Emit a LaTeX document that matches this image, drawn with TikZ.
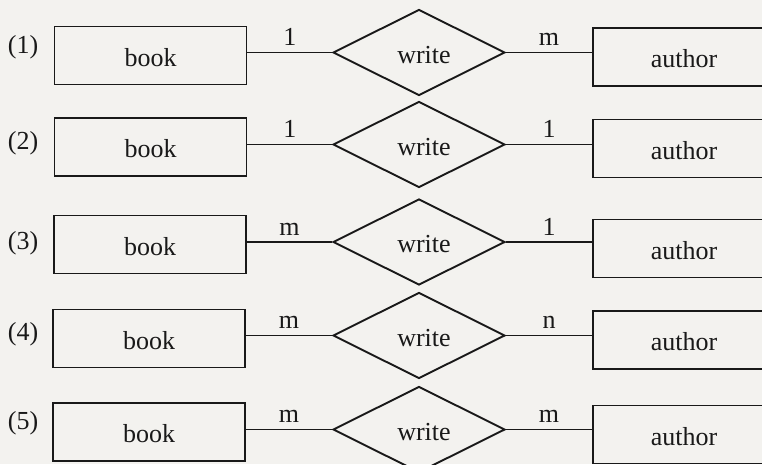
\documentclass[tikz,border=0pt]{standalone}
\usepackage{fontspec}
\setmainfont{Liberation Serif}
\usetikzlibrary{shapes.geometric}
\definecolor{paper}{RGB}{243,242,239}
\definecolor{ink}{RGB}{25,25,25}
\begin{document}
\begin{tikzpicture}[x=1pt,y=-1pt,
  every node/.style={font=\fontsize{26}{31}\selectfont, text=ink},
  ent/.style={draw=ink, line width=1.9pt, rectangle, minimum width=192pt, minimum height=58pt, inner sep=0pt, text height=21pt, text depth=0pt},
  rel/.style={draw=ink, line width=1.9pt, diamond, minimum width=172pt, minimum height=86pt, inner sep=0pt, text height=21pt, text depth=0pt},
  conn/.style={draw=ink, line width=1.9pt},
  card/.style={above=5pt, inner sep=1pt},
  num/.style={inner sep=0pt}]
\fill[paper] (0,0) rectangle (762,464);
\clip (0,0) rectangle (762,464);
\useasboundingbox (0,0) rectangle (762,464);
% row labels
\node[num] (n1) at (23,47) {(1)};
\node[num] (n2) at (23,143) {(2)};
\node[num] (n3) at (23,243) {(3)};
\node[num] (n4) at (23,334) {(4)};
\node[num] (n5) at (23,423) {(5)};
% entities book
\node[ent] (b1) at (150.5,55.5) {book};
\node[ent] (b2) at (150.5,147) {book};
\node[ent] (b3) at (150,244.5) {book};
\node[ent] (b4) at (149,338.5) {book};
\node[ent] (b5) at (149,432) {book};
% relationships
\node[rel] (w1) at (419,52.5) {\hspace*{10pt}write};
\node[rel] (w2) at (419,144.5) {\hspace*{10pt}write};
\node[rel] (w3) at (419,242) {\hspace*{10pt}write};
\node[rel] (w4) at (419,335.5) {\hspace*{10pt}write};
\node[rel] (w5) at (419,429.5) {\hspace*{10pt}write};
% entities author
\node[ent,minimum width=182pt] (a1) at (684,57) {author};
\node[ent,minimum width=182pt] (a2) at (684,148.5) {author};
\node[ent,minimum width=182pt] (a3) at (684,248.5) {author};
\node[ent,minimum width=182pt] (a4) at (684,340) {author};
\node[ent,minimum width=182pt] (a5) at (684,434.5) {author};
% connectors
\draw[conn] (w1.west -| b1.east) -- node[card] {1} (w1.west);
\draw[conn] (w1.east) -- node[card] {m} (w1.east -| a1.west);
\draw[conn] (w2.west -| b2.east) -- node[card] {1} (w2.west);
\draw[conn] (w2.east) -- node[card] {1} (w2.east -| a2.west);
\draw[conn] (w3.west -| b3.east) -- node[card] {m} (w3.west);
\draw[conn] (w3.east) -- node[card] {1} (w3.east -| a3.west);
\draw[conn] (w4.west -| b4.east) -- node[card] {m} (w4.west);
\draw[conn] (w4.east) -- node[card] {n} (w4.east -| a4.west);
\draw[conn] (w5.west -| b5.east) -- node[card] {m} (w5.west);
\draw[conn] (w5.east) -- node[card] {m} (w5.east -| a5.west);
\end{tikzpicture}
\end{document}
